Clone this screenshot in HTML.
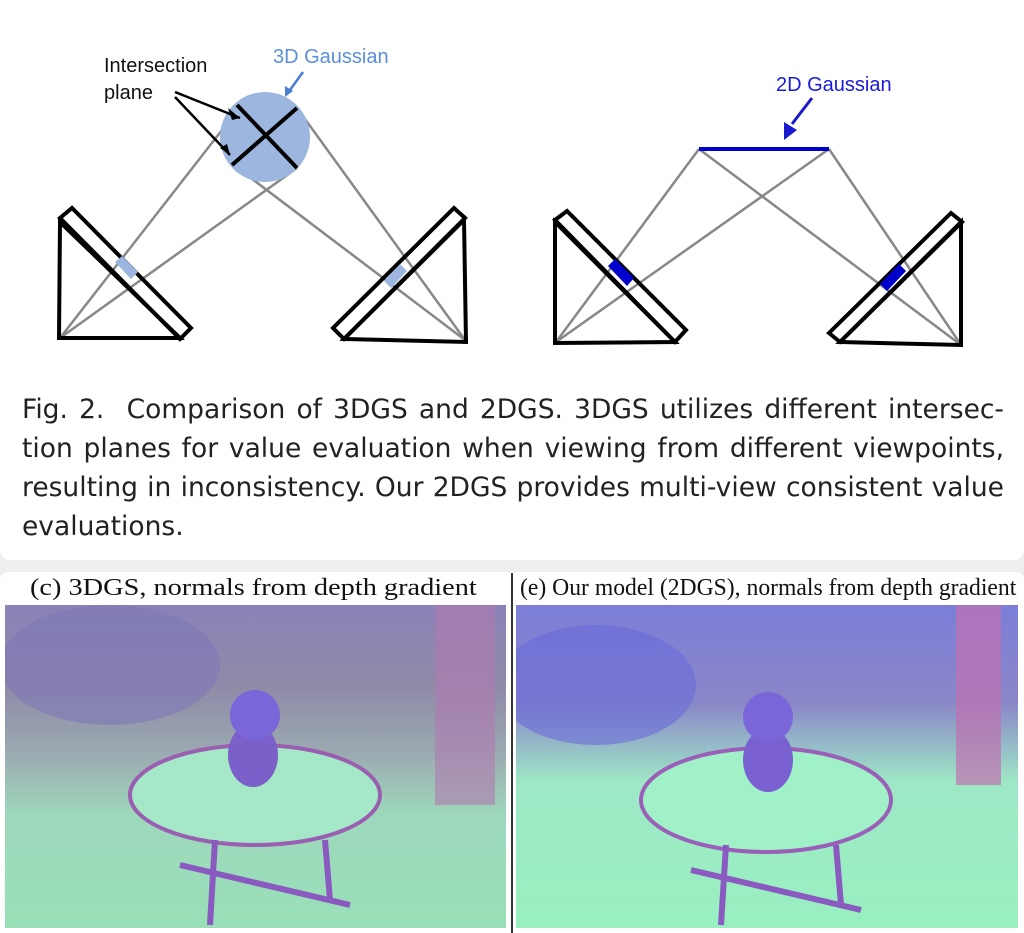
<!DOCTYPE html>
<html><head><meta charset="utf-8"><style>
html,body{margin:0;padding:0;background:#efefef;}
body{width:1024px;height:933px;position:relative;overflow:hidden;font-family:"Liberation Sans",sans-serif;}
#top{position:absolute;left:0;top:0;width:1024px;height:560px;background:#fff;border-radius:0 0 10px 10px;}
#cap{position:absolute;left:22px;top:390px;width:982px;font-family:"DejaVu Sans",sans-serif;font-size:26.5px;line-height:39px;color:#222;}
#cap div{text-align:justify;text-align-last:justify;white-space:nowrap;}
#cap div.l{text-align-last:left;}
#bot{position:absolute;left:0;top:572px;width:1024px;height:361px;background:#fff;border-radius:8px 8px 0 0;}
.t{position:absolute;top:574px;font-family:"Liberation Serif",serif;color:#111;white-space:nowrap;transform-origin:0 0;}
.img{position:absolute;top:605px;height:323px;overflow:hidden;}
</style></head><body>
<div id="top">
<svg width="1024" height="380" style="position:absolute;left:0;top:0">
<g fill="none" stroke="#888" stroke-width="2.5">
<line x1="60" y1="338" x2="222" y2="130"/><line x1="60" y1="338" x2="297" y2="168"/>
<line x1="465" y1="340" x2="297" y2="108"/><line x1="465" y1="340" x2="235" y2="166"/>
<line x1="556" y1="342" x2="699" y2="149"/><line x1="556" y1="342" x2="829" y2="149"/>
<line x1="961" y1="345" x2="699" y2="149"/><line x1="961" y1="345" x2="829" y2="149"/>
</g>
<circle cx="265" cy="137" r="45" fill="#9cb6e0"/>
<g stroke="#000" stroke-width="4"><line x1="237" y1="105" x2="297" y2="168"/><line x1="232" y1="165" x2="297" y2="108"/></g>
<g stroke="#000" stroke-width="2.5" fill="none">
<line x1="175" y1="92" x2="240" y2="118"/><line x1="175" y1="97" x2="230" y2="155"/></g>
<polygon points="240,118 228,108 232,120" fill="#000"/><polygon points="230,155 220,148 227,144" fill="#000"/>
<line x1="303" y1="72" x2="290" y2="90" stroke="#4a7fd0" stroke-width="2.5"/><polygon points="285,97 285,86 293,91" fill="#4a7fd0"/>
<text x="104" y="72" font-size="20" fill="#111">Intersection</text>
<text x="104" y="99" font-size="20" fill="#111">plane</text>
<text x="273" y="63" font-size="20" fill="#5b8fd9">3D Gaussian</text>
<g stroke="#000" stroke-width="4" fill="none" stroke-linejoin="miter">
<polygon points="60,222 59,338 180,338"/><polygon points="60,218 72,208 191,328 180,339"/>
<polygon points="464,220 466,342 344,339"/><polygon points="333,328 454,208 465,218 344,339"/>
<polygon points="555,222 555,343 675,342"/><polygon points="555,220 567,211 686,330 675,342"/>
<polygon points="961,222 961,345 840,342"/><polygon points="829,333 951,213 962,222 840,342"/>
</g>
<polygon points="115,262 122,256 138,272 131,279" fill="#9cb6e0"/>
<polygon points="384,281 400,264 407,271 391,288" fill="#9cb6e0"/>
<polygon points="608,266 615,259 634,278 627,286" fill="#0000cc"/>
<polygon points="880,284 899,264 906,271 887,291" fill="#0000cc"/>
<line x1="699" y1="149" x2="829" y2="149" stroke="#0000cc" stroke-width="4"/>
<line x1="812" y1="98" x2="792" y2="124" stroke="#1a1ad0" stroke-width="3"/><polygon points="784,140 784,122 797,130" fill="#1a1ad0"/>
<text x="776" y="91" font-size="20" fill="#1a1adb">2D Gaussian</text>
</svg>
<div id="cap">
<div>Fig. 2.&nbsp; Comparison of 3DGS and 2DGS. 3DGS utilizes different intersec-</div>
<div>tion planes for value evaluation when viewing from different viewpoints,</div>
<div>resulting in inconsistency. Our 2DGS provides multi-view consistent value</div>
<div class="l">evaluations.</div>
</div>
</div>
<div id="bot"></div>
<div class="t" style="left:30px;font-size:24px;top:575px;transform:scaleX(1.18)">(c) 3DGS, normals from depth gradient</div>
<div class="t" style="left:520px;font-size:24px;top:575px;transform:scaleX(0.985)">(e) Our model (2DGS), normals from depth gradient</div>
<div style="position:absolute;left:511px;top:573px;width:2px;height:360px;background:#333"></div>
<div class="img" style="left:5px;width:501px;background:linear-gradient(180deg,#8a82b8 0%,#8f8aa8 25%,#9aa8b0 45%,#9ed8bc 65%,#98e0b8 100%)">
<svg width="501" height="323"><ellipse cx="105" cy="60" rx="110" ry="60" fill="#7f78b8" opacity=".6"/>
<rect x="430" y="0" width="60" height="200" fill="#b07ab0" opacity=".6"/>
<ellipse cx="250" cy="190" rx="125" ry="50" fill="#a4e8c8" stroke="#9a5fb0" stroke-width="4"/>
<ellipse cx="248" cy="150" rx="25" ry="32" fill="#7a60c8"/><circle cx="250" cy="110" r="25" fill="#7a66d8"/>
<g stroke="#8a5ac0" stroke-width="6"><line x1="210" y1="235" x2="205" y2="320"/><line x1="320" y1="235" x2="325" y2="295"/><line x1="175" y1="260" x2="345" y2="300"/></g></svg></div>
<div class="img" style="left:516px;width:502px;background:linear-gradient(180deg,#7c7ed8 0%,#8a86c8 30%,#9ee8c6 55%,#98f0c0 100%)">
<svg width="502" height="323"><ellipse cx="80" cy="80" rx="100" ry="60" fill="#6a6ad8" opacity=".6"/>
<rect x="440" y="0" width="45" height="180" fill="#c070b0" opacity=".7"/>
<ellipse cx="250" cy="195" rx="125" ry="52" fill="#a0f0c8" stroke="#9a5fb8" stroke-width="4"/>
<ellipse cx="252" cy="155" rx="25" ry="32" fill="#7a60d0"/><circle cx="252" cy="112" r="25" fill="#7a66d8"/>
<g stroke="#8a5ac0" stroke-width="6"><line x1="210" y1="240" x2="205" y2="320"/><line x1="320" y1="240" x2="325" y2="300"/><line x1="175" y1="265" x2="345" y2="305"/></g></svg></div>
</body></html>
